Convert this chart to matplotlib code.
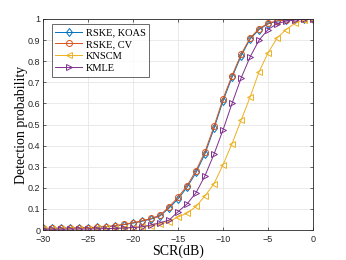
import matplotlib
matplotlib.use("Agg")
import matplotlib.pyplot as plt
import numpy as np

scr = list(range(-30, 1))
#            -30    -29    -28    -27    -26    -25    -24    -23    -22    -21
rske_koas = [0.008, 0.008, 0.009, 0.009, 0.010, 0.011, 0.013, 0.016, 0.020, 0.026,
#            -20    -19    -18    -17    -16    -15    -14    -13    -12    -11
             0.033, 0.042, 0.052, 0.067, 0.104, 0.148, 0.202, 0.273, 0.362, 0.482,
#            -10    -9     -8     -7     -6     -5     -4     -3     -2     -1     0
             0.612, 0.724, 0.825, 0.905, 0.950, 0.977, 0.990, 0.995, 0.998, 0.999, 1.0]
rske_cv = [0.009, 0.009, 0.010, 0.010, 0.011, 0.012, 0.014, 0.017, 0.021, 0.027,
           0.035, 0.044, 0.055, 0.070, 0.110, 0.155, 0.210, 0.282, 0.372, 0.492,
           0.622, 0.732, 0.832, 0.910, 0.954, 0.980, 0.991, 0.996, 0.998, 0.999, 1.0]
knscm = [0.006, 0.006, 0.006, 0.007, 0.007, 0.007, 0.008, 0.008, 0.009, 0.010,
         0.012, 0.015, 0.020, 0.028, 0.040, 0.062, 0.080, 0.112, 0.162, 0.220,
         0.310, 0.410, 0.520, 0.630, 0.750, 0.840, 0.910, 0.950, 0.980, 0.995, 1.0]
kmle = [0.004, 0.004, 0.004, 0.005, 0.005, 0.005, 0.006, 0.007, 0.008, 0.010,
        0.012, 0.016, 0.024, 0.035, 0.047, 0.087, 0.124, 0.177, 0.258, 0.360,
        0.475, 0.600, 0.720, 0.820, 0.900, 0.950, 0.978, 0.990, 0.995, 0.998, 1.0]

series = [
    ("RSKE, KOAS", rske_koas, "#0072BD", "d"),
    ("RSKE, CV", rske_cv, "#D95319", "o"),
    ("KNSCM", knscm, "#EDB120", "<"),
    ("KMLE", kmle, "#7E2F8E", ">"),
]

fig = plt.figure(figsize=(3.46, 2.60), dpi=100)
ax = fig.add_axes([0.124, 0.115, 0.781, 0.812])

for name, vals, col, mk in series:
    ax.plot(scr, vals, color=col, marker=mk, markersize=4.3, markerfacecolor="none",
            markeredgewidth=0.7, linewidth=0.7, label=name)

ax.set_xlim(-30, 0)
ax.set_ylim(0, 1)
ax.set_xticks([-30, -25, -20, -15, -10, -5, 0])
ax.set_yticks(np.arange(0, 1.01, 0.1))
ax.set_yticklabels(["0", "0.1", "0.2", "0.3", "0.4", "0.5", "0.6", "0.7", "0.8", "0.9", "1"])
ax.tick_params(labelsize=6.5, direction="in", length=2.5, width=0.5, colors="#262626",
               top=True, right=True, pad=2)
ax.tick_params(axis="x", pad=3.5)
for lab in ax.get_xticklabels() + ax.get_yticklabels():
    lab.set_family("Liberation Sans")
ax.grid(True, color="#e6e6e6", linewidth=0.6)
ax.set_axisbelow(True)
for s in ax.spines.values():
    s.set_color("#262626")
    s.set_linewidth(0.6)

ax.set_xlabel("SCR(dB)", fontsize=10, family="Liberation Serif", labelpad=0.5)
ax.set_ylabel("Detection probability", fontsize=10, family="Liberation Serif", labelpad=0)

leg = ax.legend(loc="upper left", bbox_to_anchor=(0.025, 0.985), prop={"family": "Liberation Serif", "size": 7.5},
                frameon=True, fancybox=False, edgecolor="#262626", handlelength=2.6,
                handletextpad=0.3, borderpad=0.35, labelspacing=0.25, borderaxespad=0.2)
leg.get_frame().set_linewidth(0.6)

fig.savefig("out.png", dpi=100)
